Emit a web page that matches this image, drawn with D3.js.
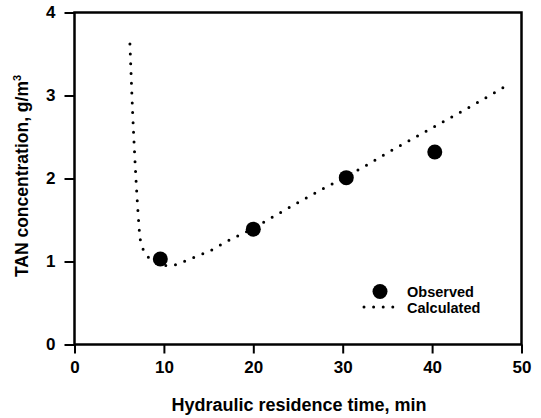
<!DOCTYPE html>
<html>
<head>
<meta charset="utf-8">
<script src="https://cdn.jsdelivr.net/npm/d3@7"></script>
<style>
  html, body { margin: 0; padding: 0; background: #fff; }
  svg { display: block; }
  text { font-family: "Liberation Sans", Arial, Helvetica, sans-serif; font-weight: bold; fill: #000; }
</style>
</head>
<body>
<svg id="chart" width="541" height="418"></svg>
<script>
// Observed data (hydraulic residence time, min ; TAN g/m3)
const obsTime = [9.6, 20.0, 30.4, 40.3];
const obsTAN  = [1.03, 1.39, 2.01, 2.32];

// Calculated curve
const calcTime = [6.2, 6.35, 6.5, 6.7, 6.9, 7.1, 7.35, 7.8, 8.5, 9.5, 10.7, 12.0, 13.8, 15.0, 17.0, 20.0, 22.4, 25.0, 27.5, 30.0, 32.5, 35.0, 37.5, 40.0, 42.5, 45.0, 48.2];
const calcTAN  = [3.62, 3.2, 2.8, 2.35, 1.95, 1.6, 1.27, 1.12, 1.03, 0.97, 0.95, 0.99, 1.07, 1.12, 1.24, 1.40, 1.55, 1.71, 1.86, 2.00, 2.15, 2.31, 2.46, 2.61, 2.76, 2.91, 3.11];

const xTicks = [0, 10, 20, 30, 40, 50];
const yTicks = [0, 1, 2, 3, 4];
const xTitle = "Hydraulic residence time, min";
const legendLabels = ["Observed", "Calculated"];

const svg = d3.select("#chart");
const pL = 74.5, pR = 521.5, pT = 12.5, pB = 344.5;
const x = d3.scaleLinear().domain([0, 50]).range([pL, pR]);
const y = d3.scaleLinear().domain([0, 4]).range([pB, pT]);

// Axes
const xAxis = svg.append("g").attr("transform", `translate(0,${pB})`)
  .call(d3.axisBottom(x).tickValues(xTicks).tickFormat(d3.format("d")).tickSize(9).tickPadding(7).tickSizeOuter(0));
const yAxis = svg.append("g").attr("transform", `translate(${pL},0)`)
  .call(d3.axisLeft(y).tickValues(yTicks).tickFormat(d3.format("d")).tickSize(10).tickPadding(9).tickSizeOuter(0));
[xAxis, yAxis].forEach(g => {
  g.select(".domain").remove();
  g.selectAll(".tick line").attr("stroke", "#000").attr("stroke-width", 2);
  g.selectAll(".tick text").style("font-size", "17px").attr("fill", "#000");
});

// Frame
svg.append("rect").attr("x", pL).attr("y", pT)
  .attr("width", pR - pL).attr("height", pB - pT)
  .attr("fill", "none").attr("stroke", "#000").attr("stroke-width", 2.5);

// Calculated curve (dotted)
const calc = calcTime.map((t, i) => [t, calcTAN[i]]);
svg.append("path").datum(calc)
  .attr("d", d3.line().x(d => x(d[0])).y(d => y(d[1])).curve(d3.curveMonotoneX))
  .attr("fill", "none").attr("stroke", "#000").attr("stroke-width", 3)
  .attr("stroke-linecap", "round").attr("stroke-dasharray", "0,9.8");

// Observed points
svg.selectAll("circle.obs").data(obsTime.map((t, i) => [t, obsTAN[i]]))
  .join("circle").attr("class", "obs")
  .attr("cx", d => x(d[0])).attr("cy", d => y(d[1])).attr("r", 7.5).attr("fill", "#000");

// Legend
const lg = svg.append("g");
lg.append("circle").attr("cx", 380).attr("cy", 291.5).attr("r", 7.5).attr("fill", "#000");
lg.append("line").attr("x1", 364).attr("x2", 393).attr("y1", 307).attr("y2", 307)
  .attr("stroke", "#000").attr("stroke-width", 3).attr("stroke-linecap", "round").attr("stroke-dasharray", "0,9.6");
lg.append("text").attr("x", 407).attr("y", 297).style("font-size", "14.5px").text(legendLabels[0]);
lg.append("text").attr("x", 407).attr("y", 312.5).style("font-size", "14.5px").text(legendLabels[1]);

// Axis titles
svg.append("text").attr("x", 299).attr("y", 411).attr("text-anchor", "middle")
  .style("font-size", "18px").text(xTitle);
const yt = svg.append("text").attr("transform", "translate(28,176) rotate(-90)")
  .attr("text-anchor", "middle").style("font-size", "17.5px");
yt.append("tspan").text("TAN concentration, g/m");
yt.append("tspan").attr("dy", -7).style("font-size", "11px").text("3");
</script>
</body>
</html>
